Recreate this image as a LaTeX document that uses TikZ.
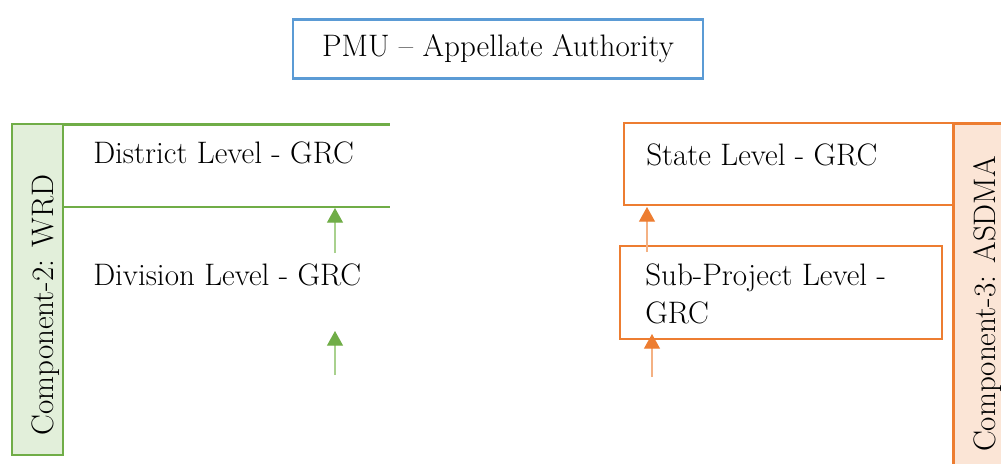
\documentclass[tikz,border=0pt]{standalone}
\usetikzlibrary{arrows.meta}
\definecolor{pmublue}{HTML}{5B9BD5}
\definecolor{wrdgreen}{HTML}{70AD47}
\definecolor{wrdfill}{HTML}{E2EFDA}
\definecolor{wrdshaft}{HTML}{A9D18E}
\definecolor{asdorange}{HTML}{ED7D31}
\definecolor{asdfill}{HTML}{FBE5D6}
\definecolor{asdshaft}{HTML}{F4B183}
\tikzset{
  txt/.style={inner sep=0pt, font=\fontsize{23.3}{28.5}\selectfont},
  lbl/.style={txt, anchor=base west, align=left},
  frame/.style={draw=#1, line width=1.9pt, inner sep=0pt},
  uparrow/.style 2 args={draw=#1, line width=0.8pt,
    -{Triangle[length=11pt,width=12pt,color=#2]}},
}
\begin{document}
\begin{tikzpicture}[x=0.75pt,y=-0.75pt]
\useasboundingbox (0,0) rectangle (1001,464);

% top authority
\node[frame=pmublue, minimum width=307.5pt, minimum height=44pt,
      txt] (pmu) at (498,49) {PMU -- Appellate Authority};

% Component 2 (WRD)
\node[frame=wrdgreen, fill=wrdfill, minimum width=38.25pt, minimum height=248.25pt]
      (wrd) at (37.5,289.5) {};
\node[txt, rotate=90, anchor=base] (wrdt) at (53,305) {Component-2: WRD};
\coordinate (gtopR) at (390,124.5);
\coordinate (gmidR) at (390,207);
\draw[wrdgreen, line width=1.9pt] (wrd.east |- gtopR) -- (gtopR);
\draw[wrdgreen, line width=1.9pt] (wrd.east |- gmidR) -- (gmidR);
\node[lbl] (district) at (93,163) {District Level - GRC};
\node[lbl] (division) at (93,285) {Division Level - GRC};
\coordinate (ga1) at (335,253);
\coordinate (ga1t) at (335,208);
\coordinate (ga2) at (335,375);
\coordinate (ga2t) at (335,331);
\draw[uparrow={wrdshaft}{wrdgreen}] (ga1) -- (ga1t);
\draw[uparrow={wrdshaft}{wrdgreen}] (ga2) -- (ga2t);

% Component 3 (ASDMA)
\node[frame=asdorange, fill=asdfill, minimum width=40pt, minimum height=260pt]
      (asdma) at (980,297) {};
\node[txt, rotate=90, anchor=base] (asdmat) at (995,304) {Component-3: ASDMA};
\node[frame=asdorange, minimum width=246.75pt, minimum height=61.5pt]
      (state) at (788.5,164) {};
\node[lbl] (statet) at (646,165) {State Level - GRC};
\node[frame=asdorange, minimum width=241.5pt, minimum height=70pt]
      (subp) at (781,292.5) {};
\node[lbl] (subpt) at (645,323) {Sub-Project Level -\\GRC};
\coordinate (oa1) at (647,252);
\coordinate (oa1t) at (647,207);
\coordinate (oa2) at (652,377);
\coordinate (oa2t) at (652,334);
\draw[uparrow={asdshaft}{asdorange}] (oa1) -- (oa1t);
\draw[uparrow={asdshaft}{asdorange}] (oa2) -- (oa2t);
\end{tikzpicture}
\end{document}
